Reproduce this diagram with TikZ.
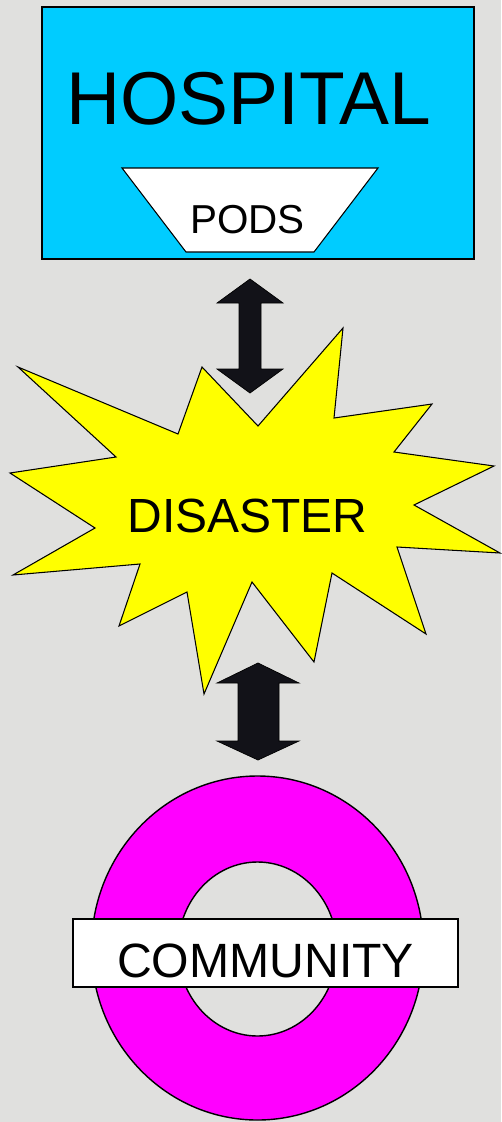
\documentclass[tikz,border=0pt]{standalone}
\usepackage{fontspec}
\setmainfont{Liberation Sans}
\definecolor{bgc}{RGB}{224,224,222}
\definecolor{hosp}{RGB}{0,204,255}
\definecolor{star}{RGB}{255,255,0}
\definecolor{ring}{RGB}{255,0,255}
\definecolor{arr}{RGB}{18,18,24}
\begin{document}
\begin{tikzpicture}[x=0.02cm,y=-0.02cm,
  outl/.style={draw=black,line width=0.6pt,line join=miter},
  lbl/.style={anchor=base,inner sep=0pt,text=black},
  dblarrow/.style={fill=arr,draw=black,line width=0.4pt}]
\useasboundingbox (0,0) rectangle (501,1122);
\fill[bgc] (0,0) rectangle (501,1122);
% hospital
\node[outl,fill=hosp,draw,line width=0.9pt,minimum width=432*0.02cm,minimum height=252*0.02cm,inner sep=0pt] (hospital) at (258,133) {};
\node[lbl,font=\fontsize{42.6}{42.6}\selectfont] (hosptext) at (248.5,125) {HOSPITAL};
\draw[outl,fill=white] (122,168) -- (378,168) -- (314,252) -- (186,252) -- cycle;
\node[lbl,font=\fontsize{23}{23}\selectfont] (pods) at (247.5,233) {PODS};
% arrow 1
\draw[dblarrow] (250,279) -- (283,303) -- (261,303) -- (261,369) -- (283,369) -- (250,393) -- (217,369) -- (239,369) -- (239,303) -- (217,303) -- cycle;
% starburst
\draw[outl,fill=star] (18,367) -- (178,434) -- (202,367) -- (258,426) -- (343,328) -- (334,418) -- (432,404) -- (394,452) -- (494,466) -- (414,505) -- (500,553) -- (397,547) -- (426,634) -- (332,573) -- (314,662) -- (252,582) -- (204,694) -- (187,592) -- (119,626) -- (140,564) -- (13,575) -- (95,528) -- (10,473) -- (116,457) -- cycle;
\node[lbl,font=\fontsize{27.3}{27.3}\selectfont] (disaster) at (247.5,532) {DISASTER};
% arrow 2
\draw[dblarrow] (258,663) -- (299,683) -- (279,683) -- (279,741) -- (299,741) -- (258,760) -- (217,741) -- (238,741) -- (238,683) -- (217,683) -- cycle;
% ring
\draw[outl,line width=0.8pt,fill=ring,even odd rule] (257.5,948) ellipse [x radius=166,y radius=172] (257.5,949) ellipse [x radius=79.5,y radius=87];
\draw[outl,fill=white] (73,919) rectangle (458,987);
\node[lbl,font=\fontsize{27.4}{27.4}\selectfont] (community) at (265.5,977) {COMMUNITY};
\end{tikzpicture}
\end{document}
